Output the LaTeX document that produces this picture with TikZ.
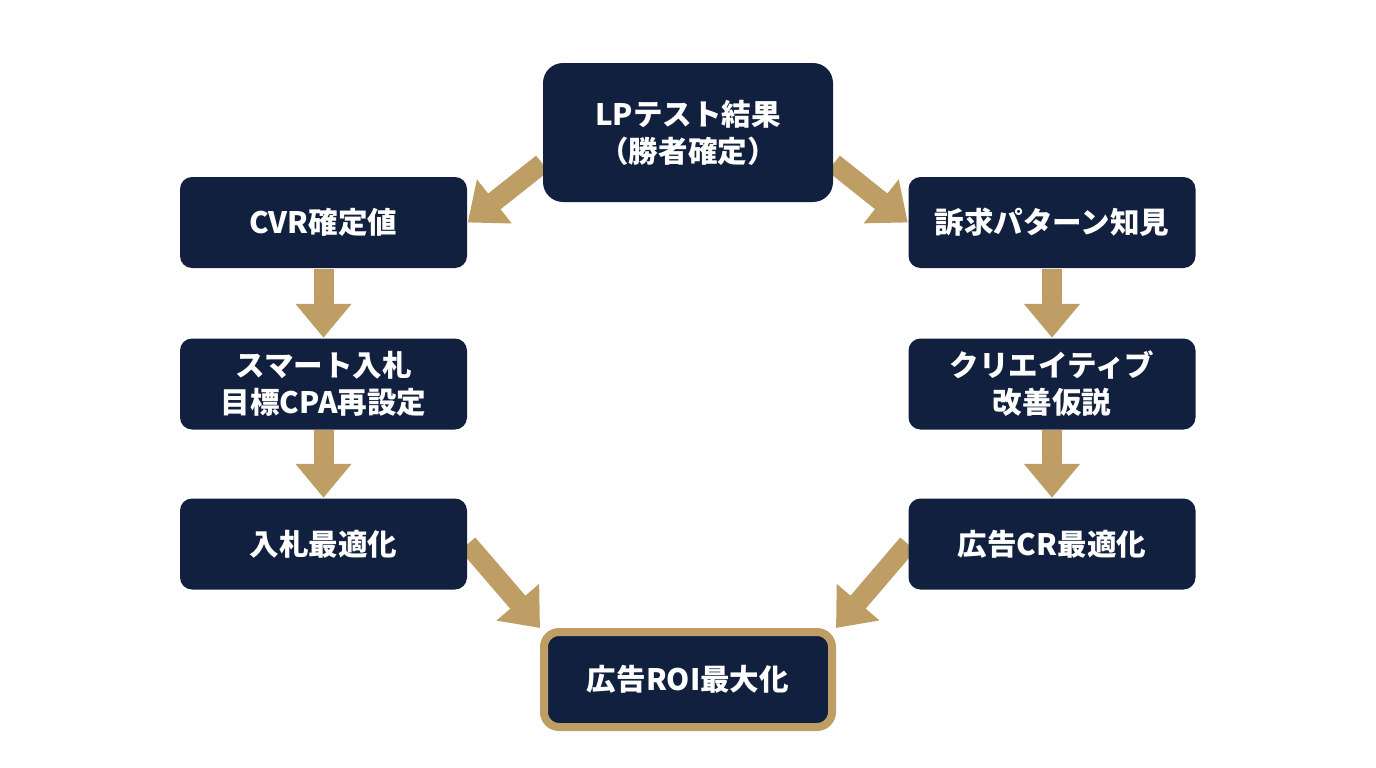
\documentclass[tikz,border=0pt]{standalone}
\usepackage{fontspec}
\setmainfont{Noto Sans CJK JP}
\usetikzlibrary{arrows.meta, positioning, backgrounds}
\definecolor{navy1}{RGB}{17, 32, 62}
\definecolor{gold1}{RGB}{190, 158, 100}

\begin{document}
\begin{tikzpicture}[
  sbox/.style={fill=navy1, rounded corners=0.12cm, minimum width=2.87cm, minimum height=0.91cm, text=white, align=center, inner sep=0pt, font=\bfseries\fontsize{8.4}{10.5}\selectfont},
  topbox/.style={sbox, rounded corners=0.2cm, minimum width=2.9cm, minimum height=1.39cm},
  goalbox/.style={sbox, draw=gold1, line width=0.08cm, rounded corners=0.15cm, minimum width=2.88cm, minimum height=0.95cm},
  flow/.style={draw=gold1, line width=0.2cm, -{Triangle[width=0.54cm, length=0.34cm]}}
]
  \useasboundingbox (0,0) rectangle (13.76,-7.68);

  \node[topbox] (lp) at (6.88,-1.325) {LPテスト結果\\（勝者確定）};

  \node[sbox] (cvr) at (3.235,-2.225) {CVR確定値};
  \node[sbox] (smart) at (3.235,-3.84) {スマート入札\\目標CPA再設定};
  \node[sbox] (bid) at (3.235,-5.44) {入札最適化};

  \node[sbox] (appeal) at (10.52,-2.225) {訴求パターン知見};
  \node[sbox] (crea) at (10.52,-3.84) {クリエイティブ\\改善仮説};
  \node[sbox] (cr) at (10.52,-5.44) {広告CR最適化};

  \node[goalbox] (roi) at (6.88,-6.795) {広告ROI最大化};

  \begin{scope}[on background layer]
    \draw[flow] (lp.192) -- (cvr.east);
    \draw[flow] (lp.-12) -- (appeal.west);
    \draw[flow] (cvr) -- (smart);
    \draw[flow] (smart) -- (bid);
    \draw[flow] (appeal) -- (crea);
    \draw[flow] (crea) -- (cr);
    \draw[flow] (bid.east) -- (roi.north west);
    \draw[flow] (cr.west) -- (roi.north east);
  \end{scope}
\end{tikzpicture}
\end{document}
